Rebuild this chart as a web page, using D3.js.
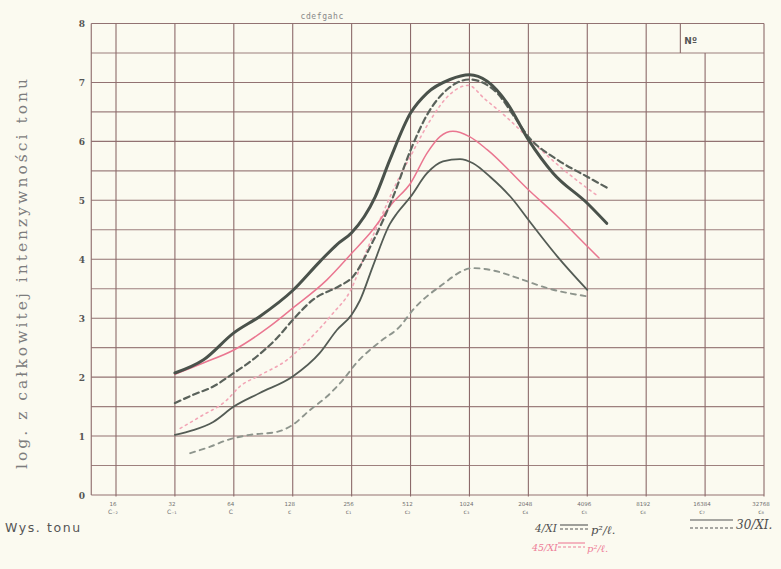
<!DOCTYPE html>
<html>
<head>
<meta charset="utf-8">
<script src="https://cdn.jsdelivr.net/npm/d3@7"></script>
<style>
  html, body { margin: 0; padding: 0; background: #fbfaf0; }
  svg { display: block; }
</style>
</head>
<body>
<svg id="chart" width="781" height="569"></svg>
<script>
// Octave grid: frequency of each C and its note name
const octaveFreqs = ["16", "32", "64", "128", "256", "512", "1024", "2048", "4096", "8192", "16384", "32768"];
const noteNames = ["C₋₂", "C₋₁", "C", "c", "c₁", "c₂", "c₃", "c₄", "c₅", "c₆", "c₇", "c₈"];
const yTicks = [0, 1, 2, 3, 4, 5, 6, 7, 8];

// Curves: x in octaves above 16 Hz, y = log of total tone intensity
// 4/XI, solid
const nov4Solid = [
  [1.0, 2.07], [1.48, 2.29], [2.0, 2.75], [2.44, 3.03], [3.0, 3.47], [3.46, 3.96],
  [3.75, 4.25], [4.0, 4.45], [4.4, 5.06], [4.65, 5.69], [5.0, 6.48], [5.28, 6.82],
  [5.67, 7.05], [6.0, 7.13], [6.3, 7.02], [6.64, 6.65], [7.0, 6.03], [7.42, 5.46],
  [8.0, 4.95], [8.33, 4.61]
];
// 4/XI, dashed
const nov4Dashed = [
  [1.0, 1.56], [1.31, 1.70], [1.65, 1.84], [2.0, 2.07], [2.39, 2.35], [2.73, 2.66],
  [3.0, 2.97], [3.34, 3.31], [3.8, 3.55], [4.0, 3.68], [4.36, 4.3], [4.7, 5.05],
  [5.0, 5.85], [5.28, 6.45], [5.62, 6.88], [6.0, 7.05], [6.47, 6.82], [6.74, 6.45],
  [7.0, 6.08], [7.49, 5.69], [8.0, 5.40], [8.34, 5.21]
];
// 45/XI, solid (red ink)
const nov45Solid = [
  [1.0, 2.05], [1.48, 2.24], [2.0, 2.46], [2.61, 2.86], [3.0, 3.17], [3.58, 3.65],
  [4.0, 4.1], [4.36, 4.5], [4.69, 4.95], [5.0, 5.29], [5.28, 5.80], [5.5, 6.08],
  [5.72, 6.17], [6.0, 6.08], [6.3, 5.86], [7.0, 5.18], [7.49, 4.73], [8.0, 4.22],
  [8.2, 4.02]
];
// 45/XI, dotted (red ink)
const nov45Dotted = [
  [1.09, 1.13], [1.43, 1.33], [1.88, 1.61], [2.1, 1.84], [2.44, 2.03], [2.9, 2.29],
  [3.24, 2.6], [3.68, 3.08], [3.97, 3.45], [4.26, 4.16], [4.48, 4.67], [4.74, 5.25],
  [5.0, 5.75], [5.33, 6.35], [5.67, 6.8], [5.98, 6.95], [6.26, 6.72], [6.64, 6.4],
  [7.11, 5.95], [7.62, 5.5], [8.17, 5.08]
];
// 30/XI, solid
const nov30Solid = [
  [1.0, 1.02], [1.31, 1.10], [1.65, 1.24], [2.0, 1.50], [2.44, 1.73], [3.0, 2.01],
  [3.46, 2.41], [3.75, 2.80], [4.0, 3.06], [4.14, 3.3], [4.36, 3.88], [4.65, 4.6],
  [4.77, 4.78], [5.0, 5.06], [5.28, 5.46], [5.55, 5.66], [5.84, 5.70], [6.06, 5.63],
  [6.35, 5.40], [6.74, 5.01], [7.0, 4.67], [7.49, 4.05], [8.0, 3.48]
];
// 30/XI, dashed
const nov30Dashed = [
  [1.26, 0.71], [1.6, 0.82], [1.88, 0.93], [2.27, 1.02], [2.73, 1.07], [3.0, 1.19],
  [3.29, 1.44], [3.58, 1.67], [3.85, 1.95], [4.09, 2.25], [4.48, 2.6], [4.82, 2.86],
  [5.04, 3.14], [5.5, 3.54], [6.06, 3.85], [6.35, 3.82], [6.91, 3.65], [7.32, 3.51],
  [8.0, 3.37]
];

const svg = d3.select("#chart");
const W = 781, H = 569;

svg.append("rect").attr("width", W).attr("height", H).attr("fill", "#fbfaf0");

// Frame spans a little below 16 Hz on the left
const xLeft = -0.42, xRight = 11;
const x = d3.scaleLinear().domain([0, 11]).range([116, 764]);
const y = d3.scaleLinear().domain([0, 8]).range([495, 23.5]);

const gridColor = "#8c6a6a";
const grid = svg.append("g").attr("stroke", gridColor).attr("stroke-width", 1.1).attr("fill", "none");

// Horizontal rules every half unit
d3.range(0, 8.01, 0.5).forEach(v => {
  grid.append("line")
    .attr("x1", x(xLeft)).attr("x2", x(xRight))
    .attr("y1", y(v)).attr("y2", y(v))
    .attr("stroke-opacity", Number.isInteger(v) ? 0.95 : 0.85);
});

// Vertical rules: frame edge plus one per octave
grid.append("line").attr("x1", x(xLeft)).attr("x2", x(xLeft)).attr("y1", y(8)).attr("y2", y(0));
d3.range(0, 12).forEach(i => {
  const top = i === 10 ? 7.5 : 8;
  grid.append("line")
    .attr("x1", x(i)).attr("x2", x(i))
    .attr("y1", y(top)).attr("y2", y(0) + 1.5);
});
// Number box in the top-right corner
grid.append("line").attr("x1", x(9.58)).attr("x2", x(9.58)).attr("y1", y(8)).attr("y2", y(7.5));
svg.append("text")
  .attr("x", x(9.58) + 4).attr("y", y(7.5) - 9)
  .attr("font-family", "DejaVu Sans, sans-serif").attr("font-size", 9).attr("font-weight", "bold")
  .attr("fill", "#555").text("Nº");

// Scale of notes above the 128–256 octave
svg.append("text")
  .attr("x", (x(3) + x(4)) / 2).attr("y", 19)
  .attr("text-anchor", "middle")
  .attr("font-family", "DejaVu Sans Mono, monospace").attr("font-size", 8)
  .attr("letter-spacing", 0.6)
  .attr("fill", "#888").text("cdefgahc");

// Y axis numbers
svg.append("g").selectAll("text").data(yTicks).join("text")
  .attr("x", 82).attr("y", d => y(d) + 3.5)
  .attr("text-anchor", "middle")
  .attr("font-family", "DejaVu Serif, serif").attr("font-size", 9).attr("font-weight", "bold")
  .attr("fill", "#555").text(d => d);

// X axis: frequency and note name under every octave rule
const xl = svg.append("g").attr("font-family", "DejaVu Sans, sans-serif").attr("fill", "#6f6f6f");
xl.selectAll("text.f").data(octaveFreqs).join("text").attr("class", "f")
  .attr("x", (d, i) => x(i) - 3).attr("y", 506)
  .attr("text-anchor", "middle").attr("font-size", 5.5).text(d => d);
xl.selectAll("text.n").data(noteNames).join("text").attr("class", "n")
  .attr("x", (d, i) => x(i) - 3).attr("y", 514)
  .attr("text-anchor", "middle").attr("font-size", 6).text(d => d);

// Axis titles
svg.append("text")
  .attr("transform", `translate(27,274) rotate(-90)`)
  .attr("text-anchor", "middle")
  .attr("font-family", "DejaVu Serif, serif").attr("font-size", 15.5)
  .attr("textLength", 390).attr("lengthAdjust", "spacing")
  .attr("fill", "#7d7d7d").text("log. z całkowitej intenzywności tonu");

svg.append("text")
  .attr("x", 5).attr("y", 532)
  .attr("font-family", "DejaVu Sans, sans-serif").attr("font-size", 12.5)
  .attr("letter-spacing", 1.6)
  .attr("fill", "#555").text("Wys. tonu");

// Curves
const line = d3.line().x(d => x(d[0])).y(d => y(d[1])).curve(d3.curveMonotoneX);
const series = [
  { data: nov30Dashed, stroke: "#8e958d", width: 1.9, dash: "5,5" },
  { data: nov30Solid,  stroke: "#545c55", width: 1.8, dash: null },
  { data: nov45Dotted, stroke: "#f2a6b6", width: 1.6, dash: "2,4" },
  { data: nov45Solid,  stroke: "#ea7690", width: 1.5, dash: null },
  { data: nov4Dashed,  stroke: "#5a625b", width: 2.2, dash: "6,4" },
  { data: nov4Solid,   stroke: "#4a524b", width: 3.0, dash: null }
];
svg.append("g").attr("fill", "none").attr("stroke-linecap", "round")
  .selectAll("path").data(series).join("path")
  .attr("d", d => line(d.data))
  .attr("stroke", d => d.stroke)
  .attr("stroke-width", d => d.width)
  .attr("stroke-dasharray", d => d.dash);

// Legend (handwritten keys)
const lg = svg.append("g").attr("font-family", "DejaVu Serif, serif").attr("font-style", "italic");
function dateLabel(g, px, py, text, color, size) {
  g.append("text").attr("x", px).attr("y", py).attr("fill", color)
    .attr("font-size", size).text(text);
}
function keyLines(g, x1, x2, y1, y2, color) {
  g.append("line").attr("x1", x1).attr("x2", x2).attr("y1", y1).attr("y2", y1)
    .attr("stroke", color).attr("stroke-width", 1.1);
  g.append("line").attr("x1", x1).attr("x2", x2).attr("y1", y2).attr("y2", y2)
    .attr("stroke", color).attr("stroke-width", 1.1).attr("stroke-dasharray", "3,2");
}
dateLabel(lg, 535, 532, "4/XI", "#4f4f4f", 10.5);
keyLines(lg, 560, 588, 525, 529, "#555");
dateLabel(lg, 591, 534, "p²/ℓ.", "#4f4f4f", 11.5);

dateLabel(lg, 532, 551, "45/XI", "#ee7d97", 9.5);
keyLines(lg, 558, 585, 543, 547, "#ee7d97");
dateLabel(lg, 587, 552, "p²/ℓ.", "#ee7d97", 10);

keyLines(lg, 690, 733, 520, 528, "#555");
dateLabel(lg, 736, 529, "30/XI.", "#4f4f4f", 12);
</script>
</body>
</html>
